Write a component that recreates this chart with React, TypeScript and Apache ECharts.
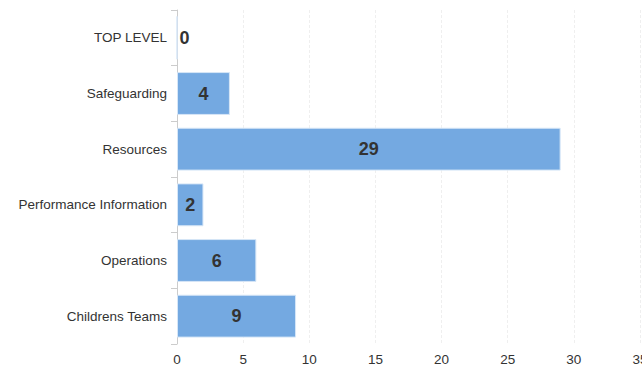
import React, { useEffect, useRef } from "react";
import * as echarts from "echarts";

const categories = ["Childrens Teams", "Operations", "Performance Information", "Resources", "Safeguarding", "TOP LEVEL"];
const values = [9, 6, 2, 29, 4, 0];
const xTicks = { min: 0, max: 35, interval: 5 };

export default function App() {
  const ref = useRef<HTMLDivElement>(null);
  useEffect(() => {
    const chart = echarts.init(ref.current!, null, { renderer: "svg" });
    chart.setOption({
      animation: false,
      grid: { left: 177, right: 2, top: 10, bottom: 28, containLabel: false, outerBoundsMode: "none" },
      xAxis: {
        type: "value",
        min: xTicks.min,
        max: xTicks.max,
        interval: xTicks.interval,
        axisLine: { show: false },
        axisTick: { show: false },
        axisLabel: { color: "#333", fontSize: 13.5, fontFamily: "Liberation Sans, Arial, sans-serif", margin: 8 },
        splitLine: { show: true, lineStyle: { color: "#efefef", type: [3, 2], width: 1 } },
      },
      yAxis: {
        type: "category",
        data: categories,
        axisLine: { show: true, lineStyle: { color: "#ccc" } },
        axisTick: { show: true, length: 6, lineStyle: { color: "#ccc" } },
        axisLabel: { color: "#333", fontSize: 13.5, fontFamily: "Liberation Sans, Arial, sans-serif", margin: 10 },
        splitLine: { show: false },
      },
      series: [
        {
          type: "bar",
          data: values.map((v) =>
            v === 0
              ? { value: v, label: { position: "right", distance: 2 } }
              : { value: v }
          ),
          barWidth: "77%",
          itemStyle: { color: "#74a9e1", borderColor: "#d6e6f7", borderWidth: 1 },
          label: {
            show: true,
            position: "inside",
            color: "#333",
            fontWeight: "bold",
            fontSize: 18,
            fontFamily: "Liberation Sans, Arial, sans-serif",
          },
        },
      ],
    });
    return () => chart.dispose();
  }, []);
  return <div ref={ref} style={{ width: 642, height: 372, position: "absolute", left: 0, top: 0 }} />;
}
